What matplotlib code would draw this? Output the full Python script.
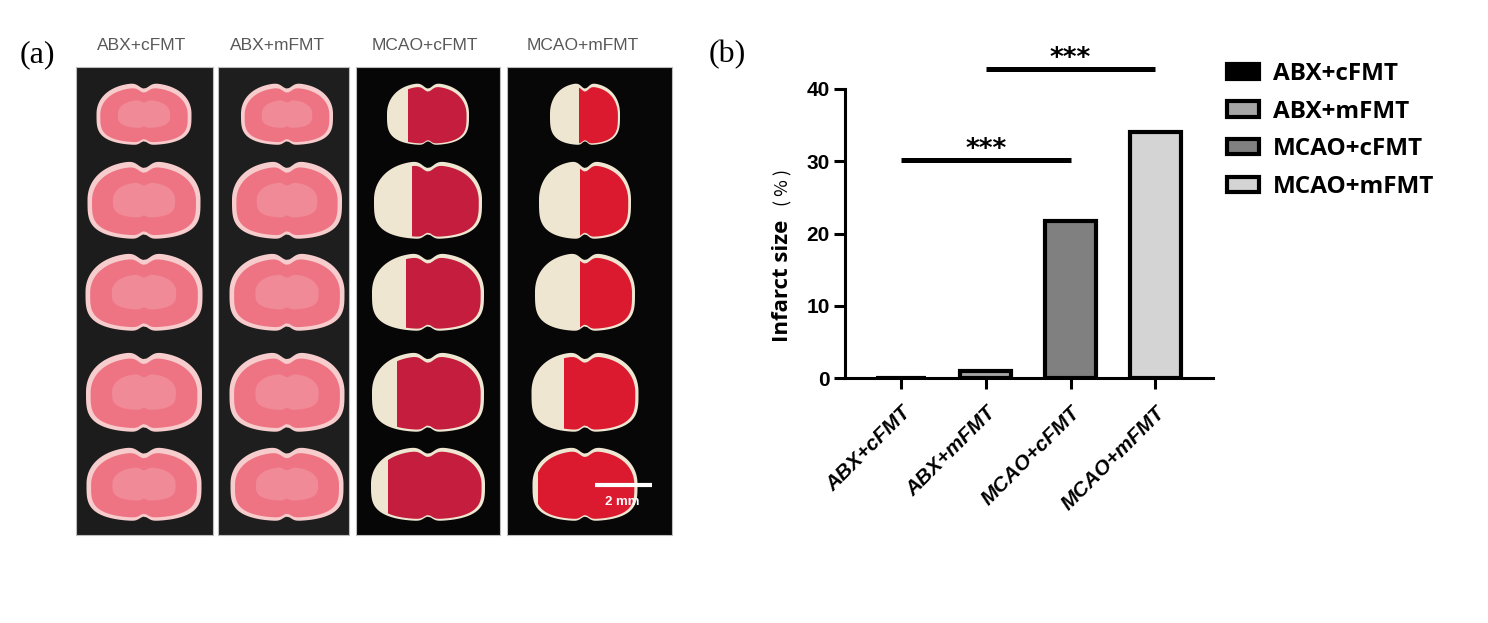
import numpy as np
import matplotlib
matplotlib.use("Agg")
import matplotlib.pyplot as plt
from matplotlib.patches import Polygon, Rectangle

# ---- data ----
groups = ['ABX+cFMT', 'ABX+mFMT', 'MCAO+cFMT', 'MCAO+mFMT']
infarct = [0.0, 1.0, 21.7, 34.0]
bar_colors = ['#000000', '#a6a6a6', '#808080', '#d4d4d4']
yticks = [0, 10, 20, 30, 40]
# significance brackets: (from group, to group, height, label)
sig_pairs = [(0, 2, 30.2, '***'), (1, 3, 42.8, '***')]

# white (unstained) fraction of each slice, left side, per photo column
pale_frac = [
    [0, 0, 0, 0, 0],
    [0, 0, 0, 0, 0],
    [0.25, 0.35, 0.30, 0.22, 0.15],
    [0.42, 0.45, 0.45, 0.30, 0.05],
]

fig = plt.figure(figsize=(14.88, 6.23), dpi=100)

# ---- panel (a): photo-like slices, drawn in pixel space ----
ax0 = fig.add_axes([0, 0, 1, 1])
ax0.set_xlim(0, 1488)
ax0.set_ylim(623, 0)
ax0.axis('off')


def brain_xy(cx, cy, w, h, n=240):
    t = np.linspace(0, 2 * np.pi, n)
    c, s = np.cos(t), np.sin(t)
    x = cx + w / 2 * np.sign(c) * np.abs(c) ** 0.8
    # bottom a bit flatter than the dome-shaped top
    y = cy + h / 2 * np.sign(s) * np.abs(s) ** np.where(s > 0, 0.55, 0.95)
    y = np.where(s < 0, y + 0.09 * h * np.exp(-((x - cx) / (0.07 * w)) ** 2), y)
    y = np.where(s > 0, y - 0.06 * h * np.exp(-((x - cx) / (0.05 * w)) ** 2), y)
    return np.column_stack([x, y])


col_box = [(76, 213), (218, 349), (356, 500), (507, 672)]
col_bg = ['#1c1c1c', '#1e1e1e', '#060606', '#070707']
col_lab_x = [142, 277, 425, 583]
col_cx = [144, 287, 428, 585]
row_cy = [114, 200, 292, 392, 484]
row_h = [62, 78, 78, 80, 74]
col_w = [
    [95, 113, 117, 116, 115],
    [92, 110, 115, 115, 113],
    [82, 108, 112, 112, 114],
    [70, 92, 100, 107, 105],
]
red_col = [None, None, '#c41d3d', '#db1a30']

for k, (x0, x1) in enumerate(col_box):
    ax0.add_patch(Rectangle((x0, 67), x1 - x0, 468, facecolor=col_bg[k],
                            edgecolor='#bdbdbd', lw=0.8))
    ax0.text(col_lab_x[k], 45, groups[k], ha='center', va='center',
             fontsize=12.5, color='#585858', family='Liberation Sans')
    for r in range(5):
        w, h = col_w[k][r], row_h[r]
        cx, cy = col_cx[k], row_cy[r]
        if k < 2:
            ax0.add_patch(Polygon(brain_xy(cx, cy, w, h), facecolor='#f6cccc', edgecolor='none'))
            ax0.add_patch(Polygon(brain_xy(cx, cy + 1, w * 0.92, h * 0.88),
                                  facecolor='#ee7484', edgecolor='none'))
            ax0.add_patch(Polygon(brain_xy(cx, cy, w * 0.55, h * 0.45),
                                  facecolor='#f08a96', edgecolor='none'))
        else:
            ax0.add_patch(Polygon(brain_xy(cx, cy, w, h), facecolor='#efe6d2', edgecolor='none'))
            inner = Polygon(brain_xy(cx, cy + 1, w * 0.94, h * 0.92),
                            facecolor='none', edgecolor='none')
            ax0.add_patch(inner)
            cut = cx - w / 2 + pale_frac[k][r] * w
            red = Rectangle((cut, cy - h), w, 2 * h, facecolor=red_col[k], edgecolor='none')
            ax0.add_patch(red)
            red.set_clip_path(inner)

# scale bar
ax0.plot([595, 652], [485, 485], color='white', lw=3, solid_capstyle='butt')
ax0.text(622, 502, '2 mm', color='white', fontsize=9.5, fontweight='bold',
         ha='center', va='center', family='Liberation Sans')

ax0.text(37, 55, '(a)', fontsize=23, family='Liberation Serif', ha='center', va='center')
ax0.text(727, 55, '(b)', fontsize=23, family='Liberation Serif', ha='center', va='center')

# ---- panel (b): bar chart ----
ax = fig.add_axes([845 / 1488, 1 - 378 / 623, (1213 - 845) / 1488, (378 - 89) / 623])
x = np.arange(len(groups))
bars = ax.bar(x, infarct, width=0.6, color=bar_colors, edgecolor='black', linewidth=3,
              zorder=2)
ax.set_xlim(-0.66, 3.68)
ax.set_ylim(0, 40)
ax.set_yticks(yticks)
ax.set_xticks(x)
ax.set_xticklabels(groups, rotation=45, ha='right', rotation_mode='anchor',
                   fontsize=15, fontweight='bold', fontstyle='italic', family='Liberation Sans')
for lab in ax.get_yticklabels():
    lab.set_fontsize(15)
    lab.set_fontweight('bold')
    lab.set_family('Liberation Sans')
ax.spines['top'].set_visible(False)
ax.spines['right'].set_visible(False)
for sp in ['left', 'bottom']:
    ax.spines[sp].set_linewidth(2.2)
    ax.spines[sp].set_zorder(3)
ax.tick_params(axis='both', direction='out', length=8, width=2.2, pad=3)
ax.tick_params(axis='x', pad=10)

for a, b, yv, txt in sig_pairs:
    ax.plot([a, b], [yv, yv], color='black', lw=3.6, solid_capstyle='butt', clip_on=False)
    ax.text((a + b) / 2, yv - 0.5, txt, ha='center', va='bottom', fontsize=19,
            fontweight='bold', clip_on=False)

ax.text(-0.171, 0.336, 'Infarct size', transform=ax.transAxes, rotation=90,
        ha='center', va='center', fontsize=16, fontweight='bold', family='Open Sans')
ax.text(-0.168, 0.66, '( % )', transform=ax.transAxes, rotation=90,
        ha='center', va='center', fontsize=13, family=['Noto Sans CJK SC', 'DejaVu Sans'])

ax.legend(bars.patches, groups, loc='upper left', bbox_to_anchor=(1227 / 1488, 1 - 62 / 623),
          bbox_transform=fig.transFigure, frameon=False, borderpad=0, borderaxespad=0,
          handlelength=1.3, handleheight=0.6, handletextpad=0.6, labelspacing=0.56,
          prop={'family': 'Open Sans', 'weight': 'bold', 'size': 17.5})

fig.savefig('out.png', dpi=100)
